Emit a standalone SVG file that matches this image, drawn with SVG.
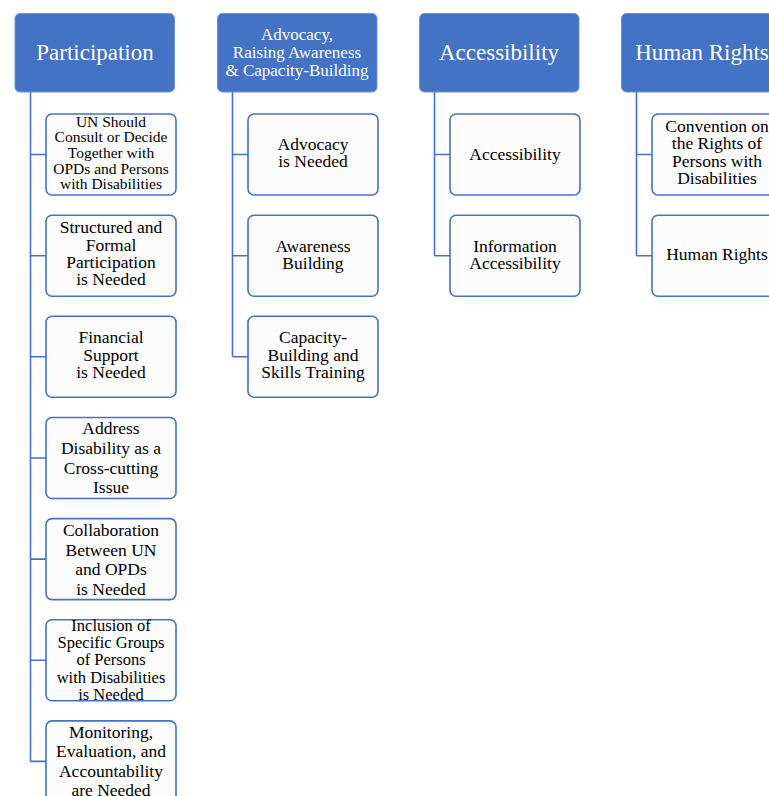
<svg xmlns="http://www.w3.org/2000/svg" width="769" height="796" viewBox="0 0 769 796">
<style>
.hdr rect{fill:#4472C4;stroke:#6E93D6;stroke-width:1}
.hdr text{fill:#FFFFFF;font-family:"Liberation Serif","Times New Roman",serif;text-anchor:middle}
.ch rect{fill:#FCFCFC;stroke:#4472C4;stroke-width:1.6}
.ch text{fill:#000000;font-family:"Liberation Serif","Times New Roman",serif;text-anchor:middle;font-size:17.5px}
#connectors path{fill:none;stroke:#4472C4;stroke-width:1.6}
</style>
<rect width="769" height="796" fill="#FFFFFF"/>
<g id="connectors">
<path d="M30.5 92 V761.4 M30.5 154.5 H46 M30.5 255.7 H46 M30.5 356.8 H46 M30.5 458 H46 M30.5 559.1 H46 M30.5 660.3 H46 M30.5 761.4 H46"/>
<path d="M232.5 92 V356.8 M232.5 154.5 H248 M232.5 255.7 H248 M232.5 356.8 H248"/>
<path d="M434.5 92 V255.7 M434.5 154.5 H450 M434.5 255.7 H450"/>
<path d="M636.5 92 V255.7 M636.5 154.5 H652 M636.5 255.7 H652"/>
</g>
<g id="h-participation" class="hdr"><rect x="15" y="13.5" width="159.5" height="78.5" rx="5"/><text x="95" y="59.5" font-size="23">Participation</text></g>
<g id="h-advocacy" class="hdr"><rect x="217.5" y="13.5" width="159.5" height="78.5" rx="5"/><text x="297" font-size="17" y="39.5">Advocacy,</text><text x="297" font-size="17" y="57.5">Raising Awareness</text><text x="297" font-size="17" y="75.8">&amp; Capacity-Building</text></g>
<g id="h-accessibility" class="hdr"><rect x="419.5" y="13.5" width="159.5" height="78.5" rx="5"/><text x="499" y="59.5" font-size="23">Accessibility</text></g>
<g id="h-humanrights" class="hdr"><rect x="621.5" y="13.5" width="159.5" height="78.5" rx="5"/><text x="702" y="59.5" font-size="23">Human Rights</text></g>

<g id="p1" class="ch"><rect x="46" y="114" width="130" height="81" rx="6"/><text x="111" style="font-size:15.5px"><tspan x="111" y="126.7">UN Should</tspan><tspan x="111" y="142.3">Consult or Decide</tspan><tspan x="111" y="158">Together with</tspan><tspan x="111" y="173.6">OPDs and Persons</tspan><tspan x="111" y="189.3">with Disabilities</tspan></text></g>
<g id="p2" class="ch"><rect x="46" y="215.2" width="130" height="81" rx="6"/><text><tspan x="111" y="233.3">Structured and</tspan><tspan x="111" y="250.7">Formal</tspan><tspan x="111" y="268">Participation</tspan><tspan x="111" y="285.3">is Needed</tspan></text></g>
<g id="p3" class="ch"><rect x="46" y="316.3" width="130" height="81" rx="6"/><text><tspan x="111" y="343.3">Financial</tspan><tspan x="111" y="360.8">Support</tspan><tspan x="111" y="378.3">is Needed</tspan></text></g>
<g id="p4" class="ch"><rect x="46" y="417.5" width="130" height="81" rx="6"/><text><tspan x="111" y="434.2">Address</tspan><tspan x="111" y="453.9">Disability as a</tspan><tspan x="111" y="473.5">Cross-cutting</tspan><tspan x="111" y="493.2">Issue</tspan></text></g>
<g id="p5" class="ch"><rect x="46" y="518.6" width="130" height="81" rx="6"/><text><tspan x="111" y="536">Collaboration</tspan><tspan x="111" y="555.5">Between UN</tspan><tspan x="111" y="575">and OPDs</tspan><tspan x="111" y="594.5">is Needed</tspan></text></g>
<g id="p6" class="ch"><rect x="46" y="619.8" width="130" height="81" rx="6"/><text style="font-size:16.5px"><tspan x="111" y="630.7">Inclusion of</tspan><tspan x="111" y="648">Specific Groups</tspan><tspan x="111" y="665.3">of Persons</tspan><tspan x="111" y="682.6">with Disabilities</tspan><tspan x="111" y="699.9">is Needed</tspan></text></g>
<g id="p7" class="ch"><rect x="46" y="720.9" width="130" height="81" rx="6"/><text><tspan x="111" y="738.3">Monitoring,</tspan><tspan x="111" y="757.4">Evaluation, and</tspan><tspan x="111" y="776.5">Accountability</tspan><tspan x="111" y="795.6">are Needed</tspan></text></g>

<g id="a1" class="ch"><rect x="248" y="114" width="130" height="81" rx="6"/><text><tspan x="313" y="150">Advocacy</tspan><tspan x="313" y="167.3">is Needed</tspan></text></g>
<g id="a2" class="ch"><rect x="248" y="215.2" width="130" height="81" rx="6"/><text><tspan x="313" y="251.7">Awareness</tspan><tspan x="313" y="269">Building</tspan></text></g>
<g id="a3" class="ch"><rect x="248" y="316.3" width="130" height="81" rx="6"/><text><tspan x="313" y="343.3">Capacity-</tspan><tspan x="313" y="360.8">Building and</tspan><tspan x="313" y="378.3">Skills Training</tspan></text></g>

<g id="c1" class="ch"><rect x="450" y="114" width="130" height="81" rx="6"/><text x="515" y="159.5">Accessibility</text></g>
<g id="c2" class="ch"><rect x="450" y="215.2" width="130" height="81" rx="6"/><text><tspan x="515" y="251.7">Information</tspan><tspan x="515" y="269.2">Accessibility</tspan></text></g>

<g id="r1" class="ch"><rect x="652" y="114" width="130" height="81" rx="6"/><text><tspan x="717" y="131.7">Convention on</tspan><tspan x="717" y="149.3">the Rights of</tspan><tspan x="717" y="166.8">Persons with</tspan><tspan x="717" y="184.3">Disabilities</tspan></text></g>
<g id="r2" class="ch"><rect x="652" y="215.2" width="130" height="81" rx="6"/><text x="717" y="260">Human Rights</text></g>
</svg>
